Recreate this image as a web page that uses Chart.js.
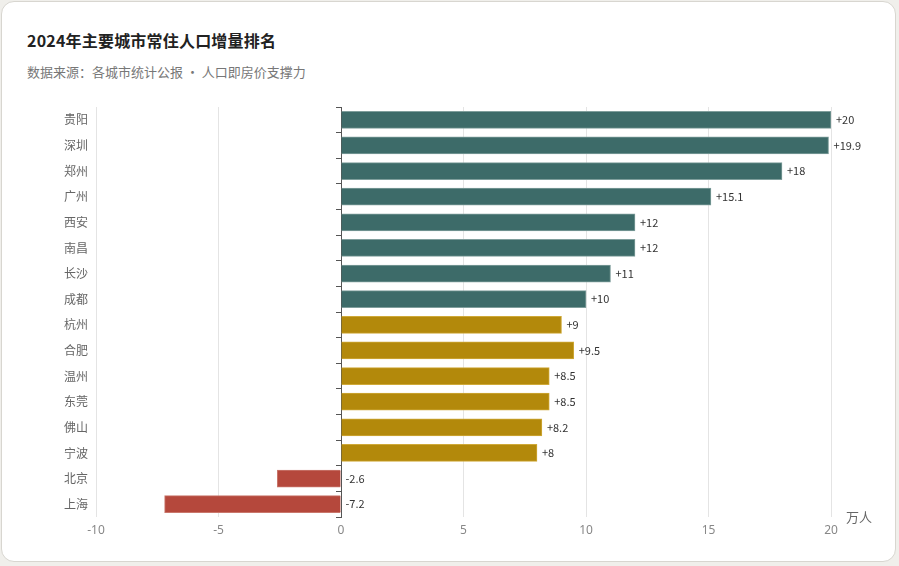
<!DOCTYPE html>
<html>
<head>
<meta charset="utf-8">
<script src="https://cdn.jsdelivr.net/npm/chart.js@4.4.1/dist/chart.umd.min.js"></script>
<style>
  html, body { margin: 0; padding: 0; background: #f0efeb; }
  body { width: 899px; height: 566px; position: relative; overflow: hidden; font-family: "Noto Sans CJK SC", "Noto Sans", sans-serif; }
  .card { position: absolute; left: 1px; top: 1px; width: 893px; height: 559px; background: #fff; border: 1px solid #d8d6d0; border-radius: 13px; }
  .title { position: absolute; left: 27px; top: 28px; font-size: 16px; font-weight: 700; color: #222; letter-spacing: 0.2px; }
  .sub { position: absolute; left: 27px; top: 62px; font-size: 13px; color: #777; }
  #chart { position: absolute; left: 0; top: 0; }
</style>
</head>
<body>
<div class="card"></div>
<div class="title">2024年主要城市常住人口增量排名</div>
<div class="sub">数据来源：各城市统计公报 · 人口即房价支撑力</div>
<canvas id="chart" width="899" height="566"></canvas>
<script>
const cities = ['贵阳', '深圳', '郑州', '广州', '西安', '南昌', '长沙', '成都', '杭州', '合肥', '温州', '东莞', '佛山', '宁波', '北京', '上海'];
const growth = [20, 19.9, 18, 15.1, 12, 12, 11, 10, 9, 9.5, 8.5, 8.5, 8.2, 8, -2.6, -7.2];
const axisMin = -10;
const axisMax = 20;
const axisStep = 5;
const unitLabel = '万人';

function barColor(v) {
  if (v < 0) return '#b5483c';
  if (v >= 10) return '#3d6b69';
  return '#b3890b';
}
function barEdge(v) {
  if (v < 0) return '#c9776c';
  if (v >= 10) return '#7f9e9c';
  return '#cfa938';
}

// value labels at the bar end (right side of the bar rect)
const valueLabels = {
  id: 'valueLabels',
  afterDatasetsDraw(chart) {
    const ctx = chart.ctx;
    const meta = chart.getDatasetMeta(0);
    ctx.save();
    ctx.font = '11px "Noto Sans CJK SC", "Noto Sans", sans-serif';
    ctx.fillStyle = '#333';
    ctx.textBaseline = 'middle';
    ctx.textAlign = 'left';
    meta.data.forEach((bar, i) => {
      const v = growth[i];
      const x = Math.max(bar.x, bar.base) + 5;
      ctx.fillText((v > 0 ? '+' : '') + v, x, bar.y);
    });
    ctx.restore();
  }
};

// axis name at the end of the value axis
const axisName = {
  id: 'axisName',
  afterDraw(chart) {
    const ctx = chart.ctx;
    const area = chart.chartArea;
    ctx.save();
    ctx.font = '13px "Noto Sans CJK SC", sans-serif';
    ctx.fillStyle = '#666';
    ctx.textBaseline = 'middle';
    ctx.textAlign = 'left';
    ctx.fillText(unitLabel, area.right + 15, area.bottom);
    ctx.restore();
  }
};

new Chart(document.getElementById('chart'), {
  type: 'bar',
  data: {
    labels: cities,
    datasets: [{
      data: growth,
      backgroundColor: growth.map(barColor),
      borderColor: growth.map(barEdge),
      borderWidth: 1,
      barThickness: 17
    }]
  },
  options: {
    indexAxis: 'y',
    responsive: false,
    animation: false,
    layout: { padding: { left: 0, top: 107, right: 68, bottom: 0 } },
    plugins: { legend: { display: false }, tooltip: { enabled: false } },
    scales: {
      x: {
        min: axisMin,
        max: axisMax,
        ticks: { stepSize: axisStep, padding: 6, color: '#888', font: { size: 12, family: '"Noto Sans", sans-serif' } },
        grid: { color: '#e4e4e4', drawTicks: false },
        border: { display: false },
        afterFit(s) { s.height = 49; }
      },
      y: {
        ticks: { padding: 8, color: '#666', font: { size: 12, family: '"Noto Sans CJK SC", sans-serif' } },
        grid: { display: false, drawTicks: false },
        border: { display: false },
        afterFit(s) { s.width = 96; }
      },
      y2: {
        type: 'category',
        position: { x: 0 },
        offset: true,
        ticks: { display: false },
        grid: { drawOnChartArea: false, drawTicks: true, tickLength: 5, offset: true, color: '#555' },
        border: { color: '#555', width: 1 },
        afterFit(s) { s.width = 0; }
      }
    }
  },
  plugins: [valueLabels, axisName]
});
</script>
</body>
</html>
